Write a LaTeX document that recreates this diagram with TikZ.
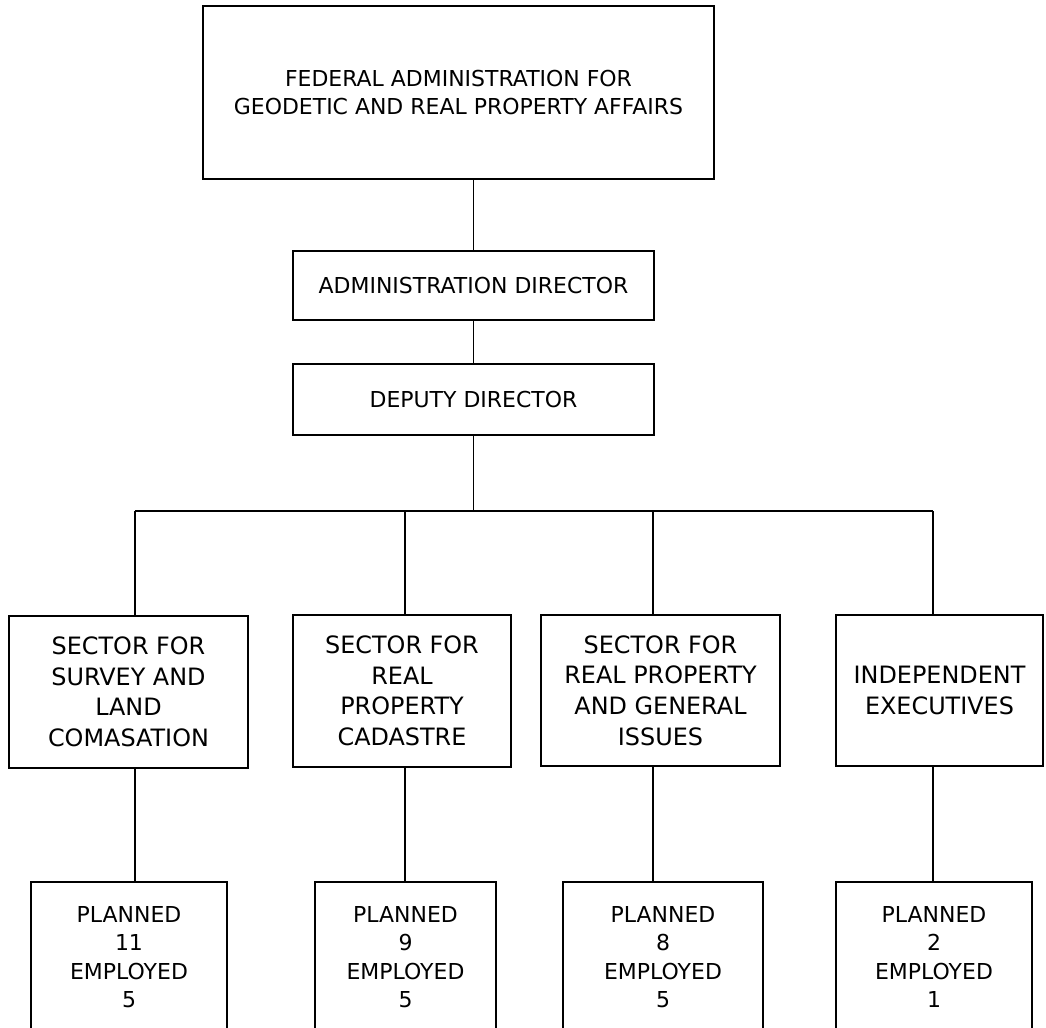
\documentclass[tikz,border=0pt]{standalone}
\usepackage{fontspec}
\setmainfont{DejaVu Sans}
\usepackage{tikz}
\usetikzlibrary{positioning}
\tikzset{
  box/.style={draw=black, line width=0.8pt, align=center, inner sep=0pt, font=\fontsize{12.5}{16.2}\selectfont},
  sect/.style={box, font=\fontsize{13.6}{17.4}\selectfont},
  link/.style={draw=black, line width=0.8pt},
}
\begin{document}
\begin{tikzpicture}[x=0.02cm, y=-0.02cm]
  \useasboundingbox[fill=white] (0,0) rectangle (1046,1028);
  \node[box, minimum width=10.22cm, minimum height=3.46cm] (top) at (458.5,92.5)
    {FEDERAL ADMINISTRATION FOR\\GEODETIC AND REAL PROPERTY AFFAIRS};
  \node[box, minimum width=7.22cm, minimum height=1.38cm] (admin) at (473.5,285.5) {ADMINISTRATION DIRECTOR};
  \node[box, minimum width=7.22cm, minimum height=1.42cm] (deputy) at (473.5,399.5) {DEPUTY DIRECTOR};
  \node[sect, minimum width=4.78cm, minimum height=3.04cm] (s1) at (128.5,692)
    {SECTOR FOR\\SURVEY AND\\LAND\\COMASATION};
  \node[sect, minimum width=4.36cm, minimum height=3.04cm] (s2) at (402,691)
    {SECTOR FOR\\REAL\\PROPERTY\\CADASTRE};
  \node[sect, minimum width=4.78cm, minimum height=3.02cm] (s3) at (660.5,690.5)
    {SECTOR FOR\\REAL PROPERTY\\AND GENERAL\\ISSUES};
  \node[sect, minimum width=4.14cm, minimum height=3.02cm] (s4) at (939.5,690.5)
    {INDEPENDENT\\EXECUTIVES};
  \node[box, minimum width=3.92cm, minimum height=3.0cm] (b1) at (129,957) {PLANNED\\11\\EMPLOYED\\5};
  \node[box, minimum width=3.62cm, minimum height=3.0cm] (b2) at (405.5,957) {PLANNED\\9\\EMPLOYED\\5};
  \node[box, minimum width=4.0cm, minimum height=3.0cm] (b3) at (663,957) {PLANNED\\8\\EMPLOYED\\5};
  \node[box, minimum width=3.92cm, minimum height=3.0cm] (b4) at (934,957) {PLANNED\\2\\EMPLOYED\\1};
  \coordinate (j1) at (135,511);
  \coordinate (j2) at (405,511);
  \coordinate (j3) at (653,511);
  \coordinate (j4) at (933,511);
  \draw[link] (admin.north) -- (admin.north |- top.south);
  \draw[link] (admin.south) -- (deputy.north);
  \draw[link] (deputy.south) -- (deputy.south |- j1);
  \draw[link] (j1) -- (j4);
  \foreach \i in {1,...,4} {
    \draw[link] (j\i) -- (j\i |- s\i.north);
    \draw[link] (j\i |- s\i.south) -- (j\i |- b\i.north);
  }
\end{tikzpicture}
\end{document}
